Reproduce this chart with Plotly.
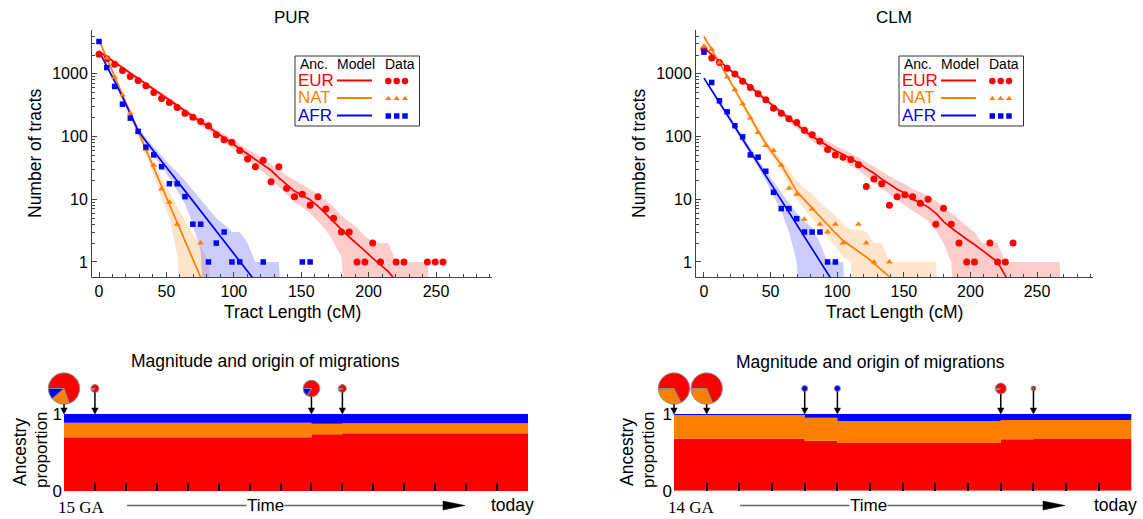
import numpy as np
import plotly.graph_objects as go

W, H = 1143, 519

EUR_C, NAT_C, AFR_C = "#ff0000", "#ff7f00", "#0000ff"
EUR_BAND, NAT_BAND, AFR_BAND = "rgba(255,0,0,0.2)", "rgba(255,127,0,0.2)", "rgba(0,0,255,0.2)"

# tract-length histogram bins (cM)
BIN_CM = 5.8

# ---------------- PUR tract length distributions ----------------
pur_eur_obs = [2060, 1750, 1430, 1130, 910, 785, 645, 505, 405, 350, 290, 236, 204, 174, 149,
               107, 89, 81, 60, 44, 33, 42, 19, 33, 15, 11, 12, 8, 11, 7, 5, 3, 3, 1, 1, 2, 1,
               None, 1, 1, None, None, 1, 1, 1]
pur_eur_model = [2270, 1860, 1530, 1250, 1030, 840, 690, 570, 465, 380, 315, 255, 210, 172, 141,
                 116, 95, 78, 64, 52, 43, 35, 29, 22, 17, 13.5, 11.5, 9.8, 7.8, 5.8, 4.4, 3.3,
                 2.5, 1.9, 1.5, 1.15, 0.9, 0.7, 0.5]
pur_eur_hi = [2400, 1960, 1610, 1320, 1090, 890, 735, 610, 500, 410, 342, 280, 232, 192, 159, 132,
              110, 91, 76, 63, 53, 44, 37, 30, 24, 20, 17, 14.5, 12, 9.5, 7.6, 5.5, 4.4, 3.5, 2.6,
              2.1, 2, 2, 1, 1, 1, 1, 1, 0]
pur_eur_lo = [2150, 1760, 1450, 1180, 970, 790, 645, 530, 430, 352, 290, 232, 190, 155, 125, 100,
              81, 66, 53, 42, 34, 27, 21, 16, 12, 9, 7.5, 6, 4.5, 3.2, 2.1, 1.2, 0]

pur_nat_obs = [3300, 1800, 880, 460, 236, 120, 62, 35, 14.6, 9, 4, None, None, 2]
pur_nat_model = [3470, 1780, 910, 460, 236, 120, 62, 32, 16, 8.3, 4.3, 2.1, 1.1, 0.56, 0.29]
pur_nat_hi = [3650, 1900, 980, 500, 262, 137, 73, 40, 22, 13, 7.5, 4.5, 2.8, 1.8, 1, 0]
pur_nat_lo = [3300, 1670, 840, 420, 212, 105, 52, 25, 11, 5, 1.3, 0]

pur_afr_obs = [3280, 1260, 630, 329, 197, 121, 68, 51, 33, 17.7, 17.7, 11, 4, 4, 1, 2, 3, 1, 1,
               None, None, 1, None, None, None, None, 1, 1]
pur_afr_model = [2300, 1350, 760, 430, 230, 125, 84, 59, 41, 28, 19.6, 13.6, 9.4, 6.5, 4.5, 3.1,
                 2.1, 1.5, 1.0, 0.71, 0.49]
pur_afr_hi = [2420, 1430, 810, 465, 252, 140, 96, 69, 50, 36, 27, 20, 14, 10, 7, 5, 4, 3, 3, 2,
              1, 1, 1, 1, 0]
pur_afr_lo = [2180, 1270, 710, 395, 208, 110, 73, 50, 33, 22, 14, 8.5, 4, 1.5, 0]

# ---------------- CLM tract length distributions ----------------
clm_eur_obs = [2475, 1800, 1515, 1230, 1000, 760, 605, 480, 385, 284, 236, 193, 168, 126, 107, 84,
               62, 51, 47, 43, 35.5, 16, 21, 17.7, 8, 11, 11.8, 11, 8.6, 10, 4, 7.2, 4, 2, 1, 1,
               None, 2, 1, 1, 2]
clm_eur_model = [2570, 2020, 1590, 1250, 990, 780, 615, 490, 385, 305, 242, 193, 155, 124, 100, 84,
                 70, 60, 52, 44, 38, 31, 26, 21, 17.5, 14.5, 12.5, 10, 8.8, 7.5, 6.0, 4.4, 3.5,
                 2.8, 2.3, 1.9, 1.55, 1.25, 1.0, 0.6, 0.4]
clm_eur_hi = [2700, 2130, 1680, 1330, 1060, 840, 665, 530, 420, 335, 268, 215, 175, 141, 115, 98,
              83, 72, 63, 54, 47, 39, 33, 27.5, 23, 20, 17.5, 14.5, 13, 11.5, 9.5, 7.5, 6, 4.8,
              3.8, 3, 2, 2, 2, 1, 1, 1, 1, 1, 1, 1, 1, 0]
clm_eur_lo = [2440, 1910, 1500, 1170, 920, 720, 565, 450, 350, 275, 216, 171, 136, 107, 85, 70, 58,
              49, 41, 34, 29, 23, 19, 15, 12, 9.5, 8, 6.5, 5.5, 4.5, 3.2, 2, 1, 0]

clm_nat_obs = [2750, 2450, 1500, 890, 560, 333, 197, 116, 72, 60, 35, 15, 12, 4.8, 7, 4, 3, 4, 2,
               None, 4, 2, 1, None, 1]
clm_nat_model = [3940, 2450, 1480, 920, 556, 330, 197, 123, 77, 52, 35.5, 22, 13.4, 9.8, 7.2, 5.2,
                 3.8, 2.9, 2.2, 1.8, 1.45, 1.2, 0.95, 0.75, 0.58]
clm_nat_hi = [4150, 2580, 1570, 985, 600, 362, 220, 140, 90, 62, 44, 30, 20, 15, 12, 9, 7, 5.5, 4,
              3.3, 3.3, 3, 2, 2, 1, 1, 1, 1, 1, 1, 1, 0]
clm_nat_lo = [3750, 2330, 1400, 860, 515, 300, 177, 108, 66, 44, 29, 17, 10, 7, 5, 3.5, 2.5, 1.8,
              1.2, 1, 0]

clm_afr_obs = [2220, 730, 372, 248, 149, 99, 51, 47, 28, 12.9, 7.1, 7.1, 4.9, 3, 3, 3, 1, 1]
clm_afr_model = [855, 546, 349, 223, 142, 91, 58, 37, 23.6, 15, 9.7, 6.2, 3.9, 2.5, 1.6, 1.0,
                 0.65, 0.42]
clm_afr_hi = [900, 580, 372, 240, 155, 100, 65, 43, 28, 19, 13, 9, 6, 4.5, 3.5, 2, 1, 1, 1, 0]
clm_afr_lo = [810, 515, 328, 207, 130, 82, 51, 32, 19.5, 11.5, 6.5, 3, 1, 0]

# ---------------- ancestry proportions through time ----------------
# one value per generation, oldest first (PUR: 15 GA .. 1 GA, CLM: 14 GA .. 1 GA)
pur_prop_eur = [0.697] * 8 + [0.736] + [0.749] * 6
pur_prop_nat = [0.190] * 8 + [0.138] + [0.131] * 6
pur_prop_afr = [0.113] * 8 + [0.126] + [0.120] * 6

clm_prop_eur = [0.678] * 4 + [0.652] + [0.622] * 5 + [0.670] + [0.674] * 3
clm_prop_nat = [0.310] * 4 + [0.300] + [0.287] * 5 + [0.252] + [0.248] * 3
clm_prop_afr = [0.012] * 4 + [0.048] + [0.091] * 5 + [0.078] + [0.078] * 3

# migration pulses: generation ago, magnitude, origin (EUR, NAT, AFR)
pur_mig_gen = [15, 14, 7, 6]
pur_mig_size = [1.0, 0.065, 0.28, 0.065]
pur_mig_origin = [(0.697, 0.19, 0.113), (0.90, 0.10, 0.0), (0.84, 0.0, 0.16), (0.94, 0.0, 0.06)]

clm_mig_gen = [14, 13, 10, 9, 4, 3]
clm_mig_size = [1.0, 1.0, 0.037, 0.037, 0.12, 0.025]
clm_mig_origin = [(0.678, 0.31, 0.012), (0.69, 0.31, 0.0), (0.0, 0.0, 1.0), (0.0, 0.0, 1.0),
                  (0.94, 0.06, 0.0), (1.0, 0.0, 0.0)]

FONT = "Liberation Sans"
SERIF = "Liberation Serif"


def bin_x(n):
    return [round(k * BIN_CM, 3) for k in range(n)]


def px(x):
    return x / W


def py(y):
    return 1 - y / H


fig = go.Figure()

# ---- top panels: bands, model curves, observed counts ----
LOG_FLOOR = 0.01


def add_band(hi, lo, color, xa, ya):
    xs = bin_x(len(hi)) + bin_x(len(lo))[::-1]
    ys = [max(v, LOG_FLOOR) for v in hi] + [max(v, LOG_FLOOR) for v in lo[::-1]]
    fig.add_trace(go.Scatter(x=xs, y=ys, mode="lines", fill="toself", fillcolor=color,
                             line=dict(width=0), xaxis=xa, yaxis=ya, hoverinfo="skip",
                             showlegend=False))


def add_model(vals, color, xa, ya):
    fig.add_trace(go.Scatter(x=bin_x(len(vals)), y=vals, mode="lines",
                             line=dict(color=color, width=1.7), xaxis=xa, yaxis=ya,
                             hoverinfo="skip", showlegend=False, cliponaxis=True))


def add_obs(vals, color, symbol, size, xa, ya):
    fig.add_trace(go.Scatter(x=bin_x(len(vals)), y=vals, mode="markers",
                             marker=dict(color=color, symbol=symbol, size=size, line=dict(width=0)),
                             xaxis=xa, yaxis=ya, hoverinfo="skip", showlegend=False,
                             cliponaxis=True))


for xa, ya, series in [
    ("x", "y", [(pur_eur_obs, pur_eur_model, pur_eur_hi, pur_eur_lo, EUR_C, EUR_BAND, "circle", 7),
                (pur_nat_obs, pur_nat_model, pur_nat_hi, pur_nat_lo, NAT_C, NAT_BAND, "triangle-up", 6),
                (pur_afr_obs, pur_afr_model, pur_afr_hi, pur_afr_lo, AFR_C, AFR_BAND, "square", 5.5)]),
    ("x2", "y2", [(clm_eur_obs, clm_eur_model, clm_eur_hi, clm_eur_lo, EUR_C, EUR_BAND, "circle", 7),
                  (clm_nat_obs, clm_nat_model, clm_nat_hi, clm_nat_lo, NAT_C, NAT_BAND, "triangle-up", 6),
                  (clm_afr_obs, clm_afr_model, clm_afr_hi, clm_afr_lo, AFR_C, AFR_BAND, "square", 5.5)]),
]:
    for obs, model, hi, lo, c, band, sym, sz in series:
        add_band(hi, lo, band, xa, ya)
    for obs, model, hi, lo, c, band, sym, sz in series:
        add_model(model, c, xa, ya)
    for obs, model, hi, lo, c, band, sym, sz in series:
        add_obs(obs, c, sym, sz, xa, ya)


# ---- bottom panels: stacked ancestry proportions ----
def add_stack(eur, nat, afr, xa, ya, grp):
    n = len(eur)
    xs = list(range(n + 1))
    for vals, c in [(eur, EUR_C), (nat, NAT_C), (afr, AFR_C)]:
        fig.add_trace(go.Scatter(x=xs, y=list(vals) + [vals[-1]], mode="lines",
                                 line=dict(width=0, shape="hv"), fillcolor=c, stackgroup=grp,
                                 xaxis=xa, yaxis=ya, hoverinfo="skip", showlegend=False))


add_stack(pur_prop_eur, pur_prop_nat, pur_prop_afr, "x3", "y3", "pur")
add_stack(clm_prop_eur, clm_prop_nat, clm_prop_afr, "x4", "y4", "clm")

# panel geometry (pixels)
TOP_Y0, TOP_Y1 = 30, 277
PUR_TOP_X = (92, 492)
CLM_TOP_X = (696, 1093)
PUR_BOT_X = (64, 528)
CLM_BOT_X = (674, 1131.5)
BOT_TOP, PUR_BOT_BASE, CLM_BOT_BASE = 414, 491, 490.7
PIE_CY = 388.5
PIE_RMAX = 15.7

shapes = []
annotations = []


def add_migrations(gens, sizes, origins, x0, x1, n_gen, founding):
    step = (x1 - x0) / n_gen
    for g, m, comp in zip(gens, sizes, origins):
        cx = x0 + (founding - g) * step
        r = PIE_RMAX * np.sqrt(m)
        fig.add_trace(go.Pie(values=list(comp), marker=dict(colors=[EUR_C, NAT_C, AFR_C],
                                                           line=dict(color="#8c8c8c", width=1)),
                             domain=dict(x=[px(cx - r), px(cx + r)],
                                         y=[py(PIE_CY + r), py(PIE_CY - r)]),
                             sort=False, direction="clockwise", rotation=270,
                             textinfo="none", hoverinfo="skip", showlegend=False))
        # arrow from the pie down to the ancestry band
        y_start = PIE_CY + r
        head = 6
        shapes.append(dict(type="line", xref="paper", yref="paper", x0=px(cx), x1=px(cx),
                           y0=py(y_start), y1=py(BOT_TOP - head + 1),
                           line=dict(color="black", width=1.5)))
        shapes.append(dict(type="path", xref="paper", yref="paper",
                           path=f"M {px(cx - 3.2)} {py(BOT_TOP - head)} L {px(cx + 3.2)} {py(BOT_TOP - head)} "
                                f"L {px(cx)} {py(BOT_TOP)} Z",
                           fillcolor="black", line=dict(color="black", width=0.5)))


add_migrations(pur_mig_gen, pur_mig_size, pur_mig_origin, *PUR_BOT_X, 15, 15)
add_migrations(clm_mig_gen, clm_mig_size, clm_mig_origin, *CLM_BOT_X, 14, 14)


# ---- legend tables ----
def add_legend(x0):
    y0, y1 = 56, 126
    shapes.append(dict(type="rect", xref="paper", yref="paper", x0=px(x0), x1=px(x0 + 124.5),
                       y0=py(y1), y1=py(y0), line=dict(color="#333", width=1),
                       fillcolor="white", layer="below"))
    for txt, cx in [("Anc.", x0 + 19), ("Model", x0 + 61), ("Data", x0 + 105)]:
        annotations.append(dict(text=txt, x=px(cx), y=py(63.5), xref="paper", yref="paper",
                                showarrow=False, font=dict(family=FONT, size=14, color="black"),
                                xanchor="center", yanchor="middle", height=14))
    for name, c, sym, sz, yy in [("EUR", EUR_C, "circle", 6.5, 80.5), ("NAT", NAT_C, "triangle-up", 5.5, 98),
                                 ("AFR", AFR_C, "square", 5.5, 115.5)]:
        annotations.append(dict(text=name, x=px(x0 + 1), y=py(yy), xref="paper", yref="paper",
                                showarrow=False, font=dict(family=FONT, size=17, color=c),
                                xanchor="left", yanchor="middle", height=15))
        shapes.append(dict(type="line", xref="paper", yref="paper", x0=px(x0 + 42), x1=px(x0 + 77),
                           y0=py(yy), y1=py(yy), line=dict(color=c, width=2), layer="above"))
        fig.add_trace(go.Scatter(x=[x0 + 93.3, x0 + 101.7, x0 + 110], y=[yy + 0.5] * 3, mode="markers",
                                 marker=dict(color=c, symbol=sym, size=sz, line=dict(width=0)),
                                 xaxis="x5", yaxis="y5", hoverinfo="skip", showlegend=False))


add_legend(295)
add_legend(899)


# ---- text ----
def text(t, x, y, size=15, color="black", family=FONT, angle=0, anchor="center", bg=None, height=None):
    d = dict(text=t, x=px(x), y=py(y), xref="paper", yref="paper", showarrow=False,
             font=dict(family=family, size=size, color=color), xanchor=anchor, yanchor="middle",
             textangle=angle)
    if bg:
        d.update(bgcolor=bg, borderpad=0)
    if height:
        d.update(height=height)
    annotations.append(d)


text("PUR", 292, 18, 17)
text("CLM", 894, 18, 17)
text("Tract Length (cM)", 292, 312, 17.5)
text("Tract Length (cM)", 894, 312, 17.5)
text("Number of tracts", 35, 153, 17.5, angle=-90)
text("Number of tracts", 639, 153, 17.5, angle=-90)

text("Magnitude and origin of migrations", 265, 361, 17.5)
text("Magnitude and origin of migrations", 870, 362, 17.5)
text("Ancestry", 20, 452, 17.5, angle=-90)
text("proportion", 41, 450, 17, angle=-90)
text("Ancestry", 627, 452, 17.5, angle=-90)
text("proportion", 648, 450, 17, angle=-90)
text("15 GA", 81, 506.5, 17, family=SERIF, height=12)
text("14 GA", 691, 506.5, 17, family=SERIF, height=12)
text("today", 512, 505, 17.5)
text("today", 1115, 505, 17.5)


def time_arrow(xs, xe, xtime):
    y = 505.5
    shapes.append(dict(type="line", xref="paper", yref="paper", x0=px(xs), x1=px(xe - 20),
                       y0=py(y), y1=py(y), line=dict(color="#666", width=1.5)))
    shapes.append(dict(type="path", xref="paper", yref="paper",
                       path=f"M {px(xe - 22)} {py(y - 4.5)} L {px(xe)} {py(y)} L {px(xe - 22)} {py(y + 4.5)} Z",
                       fillcolor="black", line=dict(color="black", width=0.5)))
    text("Time", xtime, 505, 17, bg="white")


time_arrow(127, 465, 265)
time_arrow(740, 1065, 868)

# ---- axes ----
tick_font = dict(family=FONT, size=16, color="black")


def top_x(domain, rng):
    return dict(domain=[px(domain[0]), px(domain[1])], range=rng, showline=True, linecolor="#444",
                linewidth=1, ticks="inside", ticklen=5, tickcolor="#444", tickwidth=1,
                tickvals=[0, 50, 100, 150, 200, 250], tickfont=tick_font, showgrid=False,
                zeroline=False, automargin=False,
                minor=dict(ticks="inside", ticklen=3, tickcolor="#444",
                           tickvals=list(range(0, 300, 10)), showgrid=False))


minor_log = [m * 10 ** e for e in range(0, 4) for m in range(2, 10)]


def top_y():
    return dict(domain=[py(TOP_Y1), py(TOP_Y0)], type="log", range=[-0.24, 3.70], showline=True,
                linecolor="#444", linewidth=1, ticks="inside", ticklen=5, tickcolor="#444",
                tickvals=[1, 10, 100, 1000], ticktext=["1", "10", "100", "1000"],
                tickfont=tick_font, showgrid=False, zeroline=False, automargin=False,
                minor=dict(ticks="inside", ticklen=3, tickcolor="#444", tickvals=minor_log,
                           showgrid=False))


def bot_x(domain, n):
    return dict(domain=[px(domain[0]), px(domain[1])], range=[0, n], showline=False,
                ticks="inside", ticklen=8, tickcolor="black", tickwidth=1.5, automargin=False,
                tickvals=list(range(n)), showticklabels=False, showgrid=False, zeroline=False)


def bot_y(base):
    return dict(domain=[py(base), py(BOT_TOP)], range=[0, 1], showline=False, ticks="",
                tickvals=[0, 1], ticktext=["0", "1"], tickfont=dict(family=FONT, size=17, color="black"),
                showgrid=False, zeroline=False, ticklabelstandoff=1, automargin=False)


fig.update_layout(
    template="none",
    width=W, height=H, margin=dict(l=0, r=0, t=0, b=0, pad=0, autoexpand=False),
    paper_bgcolor="white", plot_bgcolor="rgba(0,0,0,0)", showlegend=False,
    font=dict(family=FONT, color="black"),
    xaxis=dict(top_x(PUR_TOP_X, [-5.2, 291.5]), anchor="y"),
    yaxis=dict(top_y(), anchor="x"),
    xaxis2=dict(top_x(CLM_TOP_X, [-6.0, 292]), anchor="y2"),
    yaxis2=dict(top_y(), anchor="x2"),
    xaxis3=dict(bot_x(PUR_BOT_X, 15), anchor="y3"),
    yaxis3=dict(bot_y(PUR_BOT_BASE), anchor="x3"),
    xaxis4=dict(bot_x(CLM_BOT_X, 14), anchor="y4"),
    yaxis4=dict(bot_y(CLM_BOT_BASE), anchor="x4"),
    xaxis5=dict(domain=[0, 1], range=[0, W], visible=False, anchor="y5", fixedrange=True,
                automargin=False),
    yaxis5=dict(domain=[0, 1], range=[H, 0], visible=False, anchor="x5", fixedrange=True,
                automargin=False),
    shapes=shapes,
    annotations=annotations,
)

# page body without default margins so the figure fills the window exactly
fig.write_html("out.html", post_script="document.body.style.margin='0';document.body.style.overflow='hidden';")
